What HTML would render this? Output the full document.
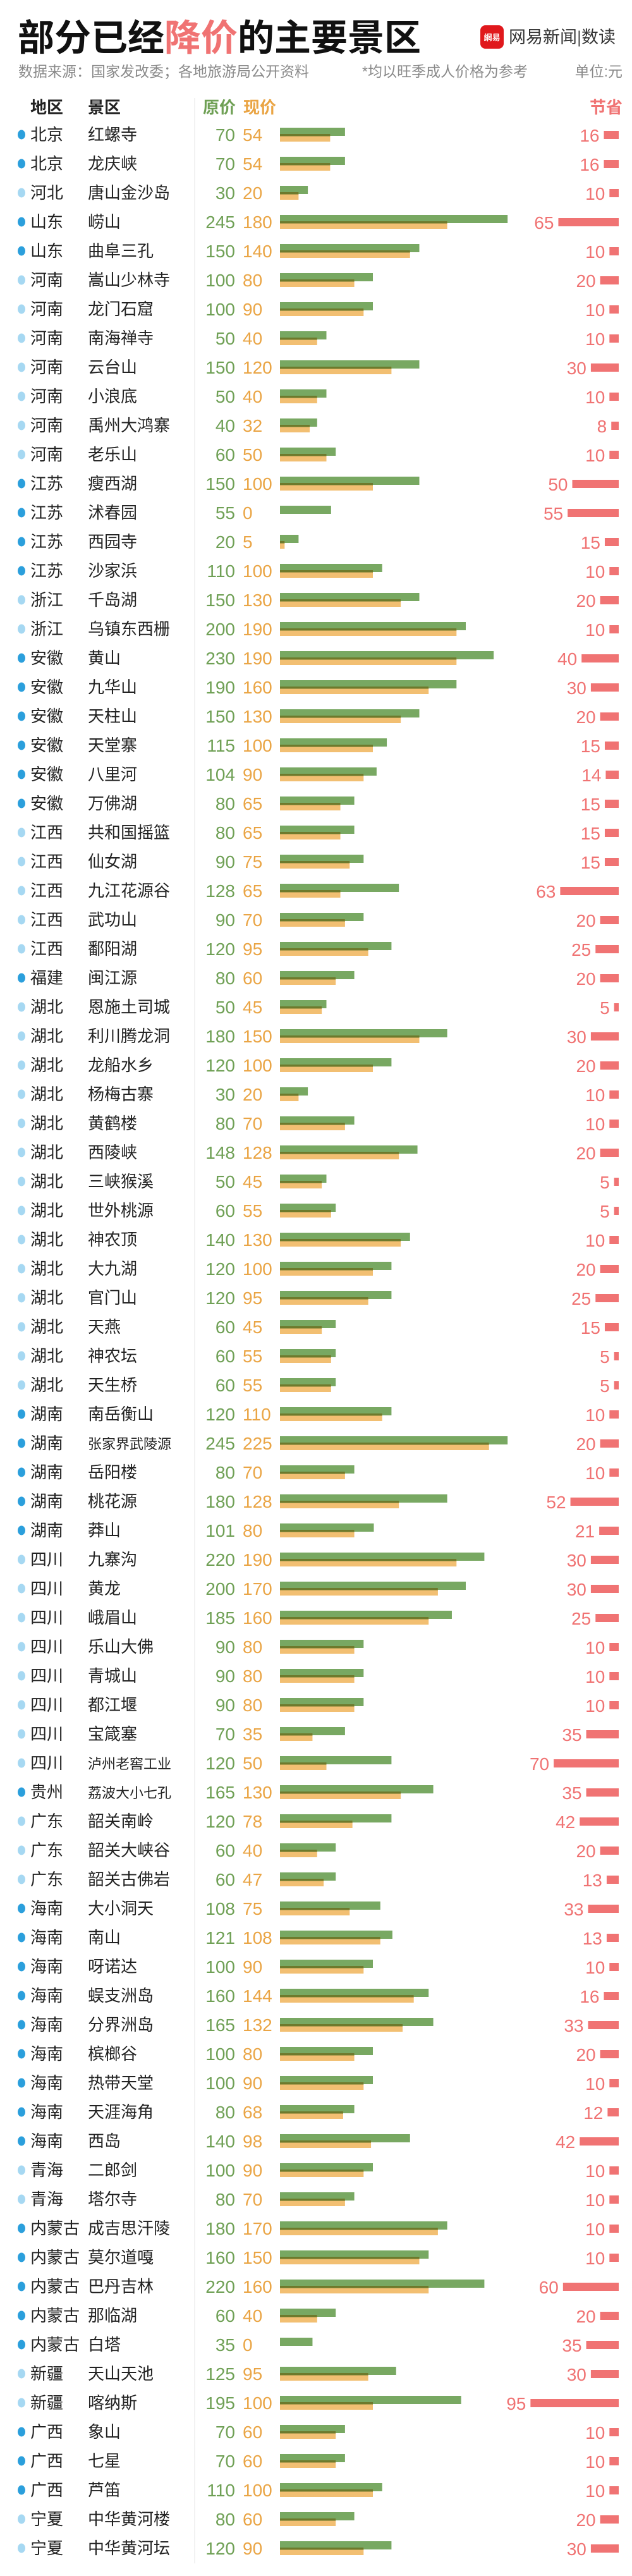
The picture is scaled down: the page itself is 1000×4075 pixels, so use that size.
<!DOCTYPE html>
<html lang="zh">
<head>
<meta charset="utf-8">
<title>部分已经降价的主要景区</title>
<style>
  html,body{margin:0;padding:0;background:#fff;}
  body{width:1000px;height:4075px;overflow:hidden;}
  svg{display:block;}
  .cjk{font-family:"Liberation Sans","Noto Sans CJK SC","WenQuanYi Zen Hei",sans-serif;}
  .num{font-family:"Liberation Sans Narrow","Liberation Sans","Noto Sans CJK SC",sans-serif;}
</style>
</head>
<body>
<svg id="chart" width="1000" height="4075" viewBox="0 0 1000 4075" xmlns="http://www.w3.org/2000/svg">
  <g>
    <text class="cjk" x="28" y="80" font-size="58" font-weight="bold" fill="#111">部分已经<tspan fill="#f07373">降价</tspan>的主要景区</text>
    <rect x="760" y="40" width="37" height="37" rx="8" fill="#e0181c"/>
    <text class="cjk" x="778.5" y="64" font-size="13" font-weight="bold" fill="#fff" text-anchor="middle">網易</text>
    <text class="cjk" x="805" y="68" font-size="27" fill="#333">网易新闻<tspan fill="#555">|</tspan>数读</text>
    <text class="cjk" x="29" y="121" font-size="23" fill="#8a8a8a">数据来源：国家发改委；各地旅游局公开资料</text>
    <text class="cjk" x="573" y="121" font-size="23" fill="#8a8a8a">*均以旺季成人价格为参考</text>
    <text class="cjk" x="985" y="121" font-size="23" fill="#8a8a8a" text-anchor="end">单位:元</text>
  </g>
  <g>
    <text class="cjk" x="48" y="179" font-size="26" font-weight="bold" fill="#222">地区</text>
    <text class="cjk" x="139" y="179" font-size="26" font-weight="bold" fill="#222">景区</text>
    <text class="cjk" x="321" y="179" font-size="26" font-weight="bold" fill="#6fa055">原价</text>
    <text class="cjk" x="385" y="179" font-size="26" font-weight="bold" fill="#eaa545">现价</text>
    <text class="cjk" x="985" y="179" font-size="26" font-weight="bold" fill="#f07373" text-anchor="end">节省</text>
  </g>
  <line x1="308" y1="155" x2="308" y2="4055" stroke="#eeeeee" stroke-width="1.5"/>
  <g id="rows"></g>
</svg>
<script>
const regions = ["北京","北京","河北","山东","山东","河南","河南","河南","河南","河南","河南","河南","江苏","江苏","江苏","江苏","浙江","浙江","安徽","安徽","安徽","安徽","安徽","安徽","江西","江西","江西","江西","江西","福建","湖北","湖北","湖北","湖北","湖北","湖北","湖北","湖北","湖北","湖北","湖北","湖北","湖北","湖北","湖南","湖南","湖南","湖南","湖南","四川","四川","四川","四川","四川","四川","四川","四川","贵州","广东","广东","广东","海南","海南","海南","海南","海南","海南","海南","海南","海南","青海","青海","内蒙古","内蒙古","内蒙古","内蒙古","内蒙古","新疆","新疆","广西","广西","广西","宁夏","宁夏"];
const spots = ["红螺寺","龙庆峡","唐山金沙岛","崂山","曲阜三孔","嵩山少林寺","龙门石窟","南海禅寺","云台山","小浪底","禹州大鸿寨","老乐山","瘦西湖","沭春园","西园寺","沙家浜","千岛湖","乌镇东西栅","黄山","九华山","天柱山","天堂寨","八里河","万佛湖","共和国摇篮","仙女湖","九江花源谷","武功山","鄱阳湖","闽江源","恩施土司城","利川腾龙洞","龙船水乡","杨梅古寨","黄鹤楼","西陵峡","三峡猴溪","世外桃源","神农顶","大九湖","官门山","天燕","神农坛","天生桥","南岳衡山","张家界武陵源","岳阳楼","桃花源","莽山","九寨沟","黄龙","峨眉山","乐山大佛","青城山","都江堰","宝箴塞","泸州老窖工业","荔波大小七孔","韶关南岭","韶关大峡谷","韶关古佛岩","大小洞天","南山","呀诺达","蜈支洲岛","分界洲岛","槟榔谷","热带天堂","天涯海角","西岛","二郎剑","塔尔寺","成吉思汗陵","莫尔道嘎","巴丹吉林","那临湖","白塔","天山天池","喀纳斯","象山","七星","芦笛","中华黄河楼","中华黄河坛"];
const originalPrices = [70,70,30,245,150,100,100,50,150,50,40,60,150,55,20,110,150,200,230,190,150,115,104,80,80,90,128,90,120,80,50,180,120,30,80,148,50,60,140,120,120,60,60,60,120,245,80,180,101,220,200,185,90,90,90,70,120,165,120,60,60,108,121,100,160,165,100,100,80,140,100,80,180,160,220,60,35,125,195,70,70,110,80,120];
const currentPrices = [54,54,20,180,140,80,90,40,120,40,32,50,100,0,5,100,130,190,190,160,130,100,90,65,65,75,65,70,95,60,45,150,100,20,70,128,45,55,130,100,95,45,55,55,110,225,70,128,80,190,170,160,80,80,80,35,50,130,78,40,47,75,108,90,144,132,80,90,68,98,90,70,170,150,160,40,0,95,100,60,60,100,60,90];
const savings = [16,16,10,65,10,20,10,10,30,10,8,10,50,55,15,10,20,10,40,30,20,15,14,15,15,15,63,20,25,20,5,30,20,10,10,20,5,5,10,20,25,15,5,5,10,20,10,52,21,30,30,25,10,10,10,35,70,35,42,20,13,33,13,10,16,33,20,10,12,42,10,10,10,10,60,20,35,30,95,10,10,10,20,30];
const darkRegions = ["北京","山东","江苏","安徽","福建","湖南","贵州","海南","内蒙古","广西"];

const NS = "http://www.w3.org/2000/svg";
const rowsG = document.getElementById("rows");
const firstRowY = 213, rowStep = 46;
const barX0 = 443, unitPx = 1.47, saveRight = 979;
function yPos(i){ return firstRowY + i*rowStep; }
function xLen(v){ return v*unitPx; }
function mk(tag, attrs, parent){
  const el = document.createElementNS(NS, tag);
  for (const k in attrs) el.setAttribute(k, attrs[k]);
  parent.appendChild(el);
  return el;
}
for (let i = 0; i < spots.length; i++) {
  const y = yPos(i);
  const g = mk("g", {}, rowsG);
  
  

  const dot = mk("ellipse", {cx:34, cy:y, rx:6, ry:7.5, fill: darkRegions.includes(regions[i]) ? "#2b9fdc" : "#a6d8f2"}, g);
  
  

  const rt = mk("text", {x:48, y:y+9, "font-size":26, fill:"#222", class:"cjk"}, g);
  rt.textContent = regions[i];
  
  

  const st = mk("text", {x:139, y:y+9, "font-size": spots[i].length > 5 ? 22 : 26, fill:"#222", class:"cjk"}, g);
  st.textContent = spots[i];
  
  

  const ot = mk("text", {x:372, y:y+10, "font-size":28, fill:"#6fa055", "text-anchor":"end", class:"num"}, g);
  ot.textContent = originalPrices[i];
  
  

  const ct = mk("text", {x:384, y:y+10, "font-size":28, fill:"#eaa545", class:"num"}, g);
  ct.textContent = currentPrices[i];
  
  

  const ob = mk("rect", {x:barX0, y:y-11, width:xLen(originalPrices[i]), height:13, fill:"#78a862"}, g);
  
  

  const cb = mk("rect", {x:barX0, y:y-1, width:xLen(currentPrices[i]), height:12, fill:"#f2bf72"}, g);
  
  

  const ov = mk("rect", {x:barX0, y:y-1, width:xLen(Math.min(originalPrices[i], currentPrices[i])), height:3.5, fill:"#6d7a2c"}, g);
  
  

  const sw = xLen(savings[i]);
  const sb = mk("rect", {x:saveRight - sw, y:y-6, width:sw, height:13, fill:"#f07373"}, g);
  
  

  const svt = mk("text", {x:saveRight - sw - 7, y:y+11, "font-size":28, fill:"#f07373", "text-anchor":"end", class:"num"}, g);
  svt.textContent = savings[i];
  
  
}
</script>
</body>
</html>
